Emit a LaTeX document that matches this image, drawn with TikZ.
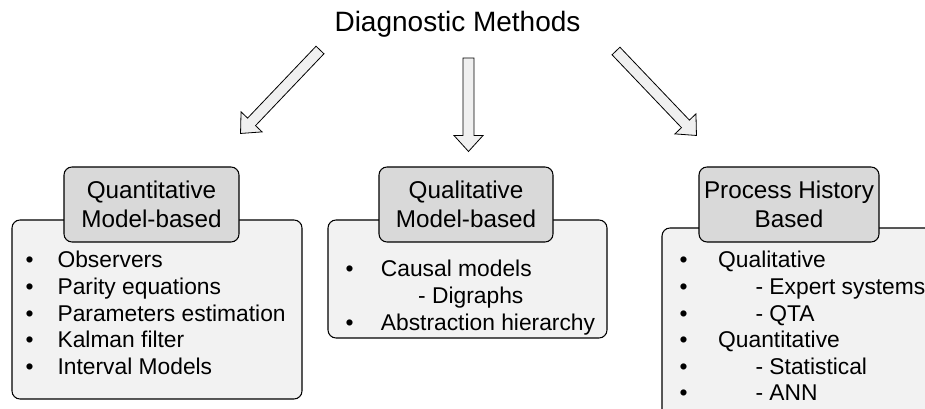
\documentclass[tikz,border=0pt]{standalone}
\usepackage{fontspec}
\setmainfont{Liberation Sans}
\usetikzlibrary{calc,positioning}
\definecolor{headgray}{HTML}{D9D9D9}
\definecolor{panelgray}{HTML}{F2F2F2}
\definecolor{arrowgray}{HTML}{F0F0F0}
\newcommand{\itm}[2][24pt]{\makebox[#1][l]{\textbullet}#2}
\newcommand{\subitm}[1]{\hspace*{28pt}- #1}
\tikzset{
    panel/.style={
    rectangle,rounded corners=6pt,draw=black,fill=panelgray,line width=0.8pt
    },
    header/.style={
    rectangle,rounded corners=6pt,draw=black,fill=headgray,line width=0.8pt,
    align=center,font=\fontsize{18.2}{21.75}\selectfont,minimum height=56.25pt
    },
    itemlist/.style={
    inner sep=0pt,anchor=base west,font=\fontsize{17.1}{19.9}\selectfont
    },
    blockarrow/.style={
    fill=arrowgray,draw=black,line width=0.6pt,
    to path={
      -- ($(\tikztostart)!4.1pt!90:(\tikztotarget)$)
      -- ($($(\tikztotarget)!12pt!(\tikztostart)$)!4.1pt!-90:(\tikztostart)$)
      -- ($($(\tikztotarget)!12pt!(\tikztostart)$)!10.9pt!-90:(\tikztostart)$)
      -- (\tikztotarget)
      -- ($($(\tikztotarget)!12pt!(\tikztostart)$)!10.9pt!90:(\tikztostart)$)
      -- ($($(\tikztotarget)!12pt!(\tikztostart)$)!4.1pt!90:(\tikztostart)$)
      -- ($(\tikztostart)!4.1pt!-90:(\tikztotarget)$)
      -- cycle
      }
    },
}

\begin{document}
\begin{tikzpicture}[x=0.75pt, y=-0.75pt]
   \path[use as bounding box, clip] (0,0) rectangle (925,409);

   \node[anchor=base, font=\fontsize{21}{24}\selectfont] (title) at (457.5,32) {Diagnostic Methods};

   % boxes
   \node[panel, minimum width=217.5pt, minimum height=134.25pt] (quantpanel) at (157,309.5) {};
   \node[panel, minimum width=209.25pt, minimum height=88.5pt]  (qualpanel)  at (467.5,279) {};
   \node[panel, minimum width=212.25pt, minimum height=147.75pt] (procpanel) at (803.5,326.5) {};

   \node[header, minimum width=131.25pt] (quanthead) at (151.5,204.5) {Quantitative\\Model-based};
   \node[header, minimum width=130.5pt]  (qualhead)  at (466,204.5)   {Qualitative\\Model-based};
   \node[header, minimum width=135pt]    (prochead)  at (789,204.5)   {Process History\\Based};

   % lists
   \node[itemlist] (quantlist) at (25.3,268) {%
     \begin{tabular}[t]{@{}l@{}}
       \itm{Observers}\\ \itm{Parity equations}\\ \itm{Parameters estimation}\\
       \itm{Kalman filter}\\ \itm{Interval Models}
     \end{tabular}};
   \node[itemlist] (quallist) at (345.3,277) {%
     \begin{tabular}[t]{@{}l@{}}
       \itm[26.5pt]{Causal models}\\ \hspace*{26.5pt}\subitm{Digraphs}\\ \itm[26.5pt]{Abstraction hierarchy}
     \end{tabular}};
   \node[itemlist] (proclist) at (679.3,268) {%
     \begin{tabular}[t]{@{}l@{}}
       \itm[29pt]{Qualitative}\\ \itm[29pt]{\subitm{Expert systems}}\\ \itm[29pt]{\subitm{QTA}}\\
       \itm[29pt]{Quantitative}\\ \itm[29pt]{\subitm{Statistical}}\\ \itm[29pt]{\subitm{ANN}}
     \end{tabular}};

   % arrows
   \coordinate (quanttail) at (320,50);
   \coordinate (qualtail)  at (468.5,58);
   \coordinate (proctail)  at (616,51);
   \draw[blockarrow] (quanttail) to ([shift={(1,-33)}]quanthead.north east);
   \draw[blockarrow] (qualtail)  to ([shift={(2.5,-15)}]qualhead.north);
   \draw[blockarrow] (proctail)  to ([shift={(-2,-31)}]prochead.north west);
\end{tikzpicture}
\end{document}
